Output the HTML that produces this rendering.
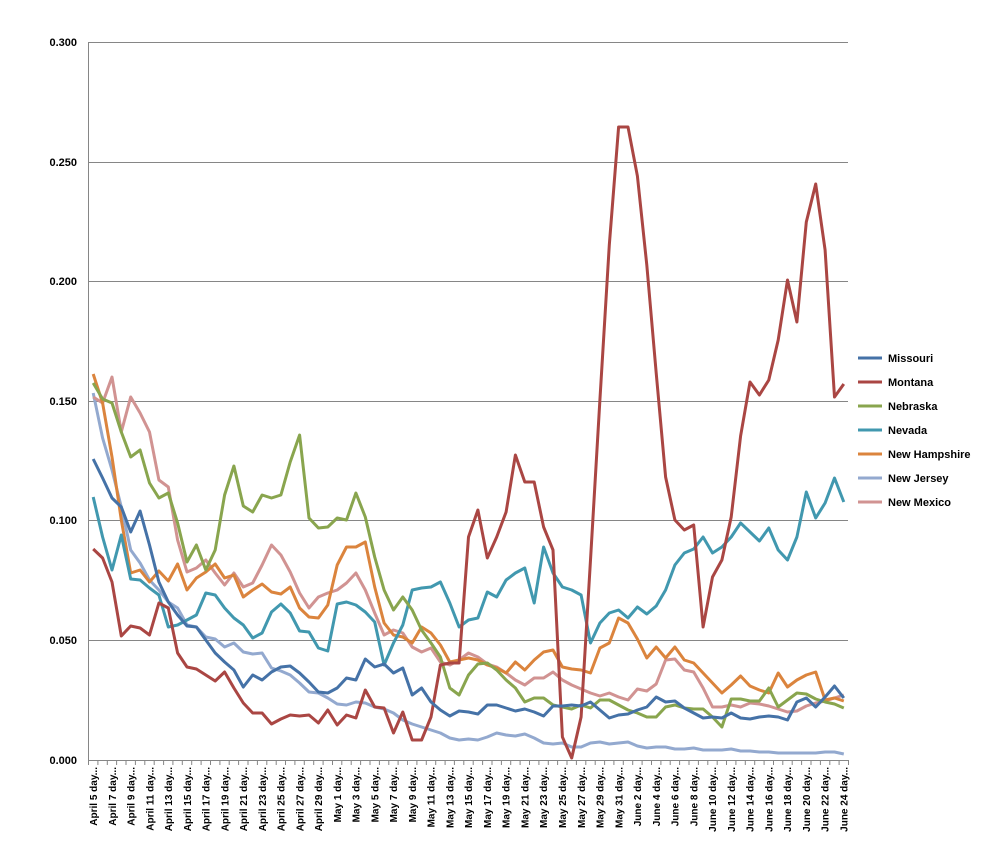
<!DOCTYPE html>
<html><head><meta charset="utf-8"><style>
html,body{margin:0;padding:0;background:#fff;}
svg{display:block;font-family:"Liberation Sans",Arial,sans-serif;}
</style></head><body>
<svg id="c" width="989" height="862" viewBox="0 0 989 862" xmlns="http://www.w3.org/2000/svg">
<rect width="989" height="862" fill="#fff"/>
<g stroke="#868686" stroke-width="1">
<line x1="88" y1="42.5" x2="848" y2="42.5"/>
<line x1="88" y1="162.5" x2="848" y2="162.5"/>
<line x1="88" y1="281.5" x2="848" y2="281.5"/>
<line x1="88" y1="401.5" x2="848" y2="401.5"/>
<line x1="88" y1="520.5" x2="848" y2="520.5"/>
<line x1="88" y1="640.5" x2="848" y2="640.5"/>
<line x1="88" y1="760.5" x2="848" y2="760.5"/>
<line x1="88.5" y1="42" x2="88.5" y2="760"/>
</g>
<g font-size="11" font-weight="bold" text-anchor="end" fill="#000">
<text x="77" y="46">0.300</text>
<text x="77" y="166">0.250</text>
<text x="77" y="285">0.200</text>
<text x="77" y="405">0.150</text>
<text x="77" y="524">0.100</text>
<text x="77" y="644">0.050</text>
<text x="77" y="764">0.000</text>
</g>
<g id="ticks" stroke="#868686" stroke-width="1"></g>
<g id="series" fill="none" stroke-width="3" stroke-linejoin="round"></g>
<g id="xl" font-size="10" font-weight="bold" text-anchor="end" fill="#000">
<text transform="translate(97,767) rotate(-90)">April 5 day...</text>
<text transform="translate(115.8,767) rotate(-90)">April 7 day...</text>
<text transform="translate(134.5,767) rotate(-90)">April 9 day...</text>
<text transform="translate(153.3,767) rotate(-90)">April 11 day...</text>
<text transform="translate(172,767) rotate(-90)">April 13 day...</text>
<text transform="translate(190.8,767) rotate(-90)">April 15 day...</text>
<text transform="translate(209.6,767) rotate(-90)">April 17 day...</text>
<text transform="translate(228.3,767) rotate(-90)">April 19 day...</text>
<text transform="translate(247.1,767) rotate(-90)">April 21 day...</text>
<text transform="translate(265.8,767) rotate(-90)">April 23 day...</text>
<text transform="translate(284.6,767) rotate(-90)">April 25 day...</text>
<text transform="translate(303.4,767) rotate(-90)">April 27 day...</text>
<text transform="translate(322.1,767) rotate(-90)">April 29 day...</text>
<text transform="translate(340.9,767) rotate(-90)">May 1 day...</text>
<text transform="translate(359.6,767) rotate(-90)">May 3 day...</text>
<text transform="translate(378.4,767) rotate(-90)">May 5 day...</text>
<text transform="translate(397.2,767) rotate(-90)">May 7 day...</text>
<text transform="translate(415.9,767) rotate(-90)">May 9 day...</text>
<text transform="translate(434.7,767) rotate(-90)">May 11 day...</text>
<text transform="translate(453.4,767) rotate(-90)">May 13 day...</text>
<text transform="translate(472.2,767) rotate(-90)">May 15 day...</text>
<text transform="translate(491,767) rotate(-90)">May 17 day...</text>
<text transform="translate(509.7,767) rotate(-90)">May 19 day...</text>
<text transform="translate(528.5,767) rotate(-90)">May 21 day...</text>
<text transform="translate(547.2,767) rotate(-90)">May 23 day...</text>
<text transform="translate(566,767) rotate(-90)">May 25 day...</text>
<text transform="translate(584.8,767) rotate(-90)">May 27 day...</text>
<text transform="translate(603.5,767) rotate(-90)">May 29 day...</text>
<text transform="translate(622.3,767) rotate(-90)">May 31 day...</text>
<text transform="translate(641,767) rotate(-90)">June 2 day...</text>
<text transform="translate(659.8,767) rotate(-90)">June 4 day...</text>
<text transform="translate(678.6,767) rotate(-90)">June 6 day...</text>
<text transform="translate(697.3,767) rotate(-90)">June 8 day...</text>
<text transform="translate(716.1,767) rotate(-90)">June 10 day...</text>
<text transform="translate(734.8,767) rotate(-90)">June 12 day...</text>
<text transform="translate(753.6,767) rotate(-90)">June 14 day...</text>
<text transform="translate(772.4,767) rotate(-90)">June 16 day...</text>
<text transform="translate(791.1,767) rotate(-90)">June 18 day...</text>
<text transform="translate(809.9,767) rotate(-90)">June 20 day...</text>
<text transform="translate(828.6,767) rotate(-90)">June 22 day...</text>
<text transform="translate(847.4,767) rotate(-90)">June 24 day...</text>
</g>
<g stroke-width="3">
<line x1="858" y1="358" x2="882" y2="358" stroke="#4572A7"/>
<line x1="858" y1="382" x2="882" y2="382" stroke="#AA4643"/>
<line x1="858" y1="406" x2="882" y2="406" stroke="#89A54E"/>
<line x1="858" y1="430" x2="882" y2="430" stroke="#4198AF"/>
<line x1="858" y1="454" x2="882" y2="454" stroke="#DB843D"/>
<line x1="858" y1="478" x2="882" y2="478" stroke="#93A9CF"/>
<line x1="858" y1="502" x2="882" y2="502" stroke="#D19392"/>
</g>
<g font-size="11" font-weight="bold" fill="#000">
<text x="888" y="362">Missouri</text>
<text x="888" y="386">Montana</text>
<text x="888" y="410">Nebraska</text>
<text x="888" y="434">Nevada</text>
<text x="888" y="458">New Hampshire</text>
<text x="888" y="482">New Jersey</text>
<text x="888" y="506">New Mexico</text>
</g>
</svg>
<script>
var D=[
["#93A9CF",[393,438,470,507,550,563,580,590,602,608,625,627,637,639,647,643,652,654,653,668,671,675,683,692,693,698,704,705,702,703,707,709,713,720,724,727,730,733,738,740,739,740,737,733,735,736,734,738,743,744,743,747,747,743,742,744,743,742,746,748,747,747,749,749,748,750,750,750,749,751,751,752,752,753,753,753,753,753,752,752,754]],
["#D19392",[397,403,377,432,397,413,432,480,487,540,572,568,560,573,585,573,587,583,565,545,555,572,593,608,597,593,590,583,573,590,613,635,630,633,647,652,648,662,665,660,653,657,664,667,673,680,685,678,678,672,680,685,689,693,696,693,697,700,689,691,684,660,659,670,672,688,707,707,705,707,703,704,706,709,712,711,706,703,701,698,695]],
["#DB843D",[374,403,457,520,573,570,582,571,581,564,590,578,572,564,578,575,597,590,584,592,594,587,608,617,618,605,565,547,547,542,587,623,635,637,643,627,633,645,662,660,658,660,665,668,673,662,670,660,652,650,667,669,670,673,648,643,618,623,639,658,647,658,647,660,663,673,683,693,685,676,686,690,693,673,687,680,675,672,700,698,701]],
["#4198AF",[497,537,570,535,579,580,588,595,627,625,620,615,593,595,608,618,625,638,633,612,604,613,631,632,648,651,604,602,605,612,622,665,643,625,590,588,587,582,603,627,620,618,592,597,580,573,568,603,547,573,587,590,595,643,623,613,610,618,607,614,606,590,565,553,549,537,553,547,537,523,532,541,528,550,560,537,492,518,503,478,502]],
["#89A54E",[383,399,403,432,457,450,483,498,493,523,562,545,570,550,495,466,506,512,495,498,495,462,435,518,528,527,518,520,493,517,557,590,610,597,610,630,643,657,688,695,675,664,663,670,680,688,702,698,698,705,707,709,705,708,700,700,705,710,713,717,717,707,705,708,709,709,717,727,699,699,701,701,688,707,700,693,694,699,702,704,708]],
["#AA4643",[549,558,582,636,626,628,635,603,608,653,667,669,675,681,672,688,703,713,713,724,719,715,716,715,723,710,725,715,718,690,707,708,733,712,740,740,717,665,663,663,537,510,558,537,512,455,482,482,527,550,737,758,717,560,400,245,127,127,176,265,373,477,520,530,525,627,577,560,517,436,382,395,380,340,280,322,222,184,250,397,384]],
["#4572A7",[459,478,498,507,532,511,545,582,602,615,626,627,640,653,662,670,687,675,680,672,667,666,673,682,692,693,688,678,680,659,667,664,673,668,695,688,702,710,716,711,712,714,705,705,708,711,709,712,716,706,706,705,706,702,710,718,715,714,710,707,697,702,701,708,713,718,717,718,713,718,719,717,716,717,720,702,698,707,697,686,698]]
];
var ns="http://www.w3.org/2000/svg",g=document.getElementById("series");
D.forEach(function(s){var p=document.createElementNS(ns,"polyline");
p.setAttribute("points",s[1].map(function(y,i){return (93.2+i*9.383).toFixed(1)+","+y}).join(" "));
p.setAttribute("stroke",s[0]);g.appendChild(p);});
var t=document.getElementById("ticks");
for(var k=0;k<=81;k++){var l=document.createElementNS(ns,"line"),x=(88.5+k*9.383).toFixed(1);
l.setAttribute("x1",x);l.setAttribute("x2",x);l.setAttribute("y1",760);l.setAttribute("y2",765);t.appendChild(l);}
</script>
</body></html>
